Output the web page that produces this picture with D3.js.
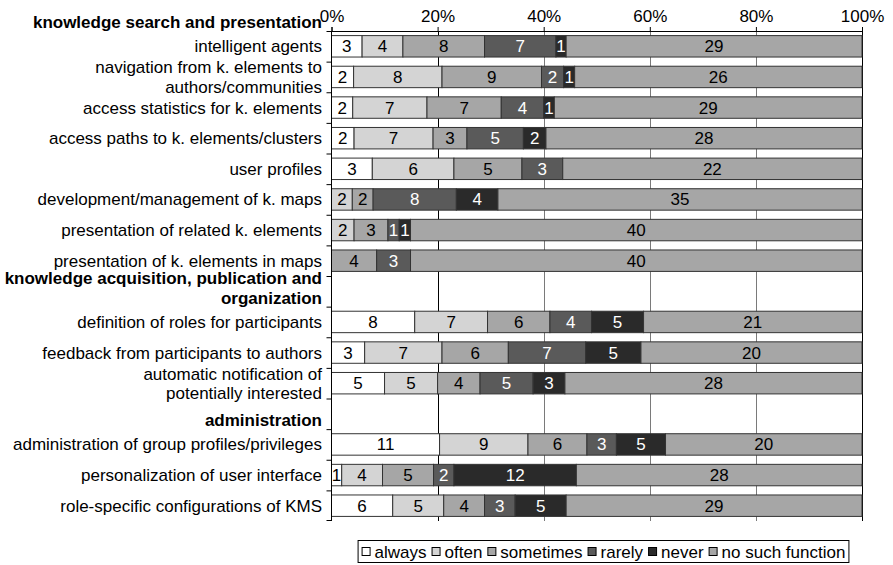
<!DOCTYPE html>
<html>
<head>
<meta charset="utf-8">
<script src="https://cdn.jsdelivr.net/npm/d3@7"></script>
<style>
  html, body { margin: 0; padding: 0; background: #fff; }
  svg { display: block; font-family: "Liberation Sans", Arial, sans-serif; }
</style>
</head>
<body>
<svg id="chart" width="893" height="565"></svg>
<script>
// ---------- data ----------
const categories = [
  "knowledge search and presentation",
  "intelligent agents",
  "navigation from k. elements to\nauthors/communities",
  "access statistics for k. elements",
  "access paths to k. elements/clusters",
  "user profiles",
  "development/management of k. maps",
  "presentation of related k. elements",
  "presentation of k. elements in maps",
  "knowledge acquisition, publication and\norganization",
  "definition of roles for participants",
  "feedback from participants to authors",
  "automatic notification of\npotentially interested",
  "administration",
  "administration of group profiles/privileges",
  "personalization of user interface",
  "role-specific configurations of KMS"
];
const headerCategories = [
  "knowledge search and presentation",
  "knowledge acquisition, publication and\norganization",
  "administration"
];
const seriesNames = ["always", "often", "sometimes", "rarely", "never", "no such function"];
const always         = [null, 3, 2, 2, 2, 3, 0, 0, 0,  null, 8, 3, 5,  null, 11, 1, 6];
const often          = [null, 4, 8, 7, 7, 6, 2, 2, 0,  null, 7, 7, 5,  null, 9, 4, 5];
const sometimes      = [null, 8, 9, 7, 3, 5, 2, 3, 4,  null, 6, 6, 4,  null, 6, 5, 4];
const rarely         = [null, 7, 2, 4, 5, 3, 8, 1, 3,  null, 4, 7, 5,  null, 3, 2, 3];
const never          = [null, 1, 1, 1, 2, 0, 4, 1, 0,  null, 5, 5, 3,  null, 5, 12, 5];
const noSuchFunction = [null, 29, 26, 29, 28, 22, 35, 40, 40, null, 21, 20, 28, null, 20, 28, 29];
const xTicks = [0, 0.2, 0.4, 0.6, 0.8, 1];

// ---------- styles ----------
const colors = {
  "always": "#ffffff",
  "often": "#d4d4d4",
  "sometimes": "#a6a6a6",
  "rarely": "#5a5a5a",
  "never": "#2a2a2a",
  "no such function": "#a6a6a6"
};
const textColors = {
  "always": "#000", "often": "#000", "sometimes": "#000",
  "rarely": "#fff", "never": "#fff", "no such function": "#000"
};

// ---------- build table ----------
const seriesValues = [always, often, sometimes, rarely, never, noSuchFunction];
const table = categories.map((c, i) => {
  const row = { category: c, header: headerCategories.includes(c) };
  seriesNames.forEach((s, k) => row[s] = seriesValues[k][i] || 0);
  return row;
});
const dataRows = table.filter(r => !r.header);

// ---------- layout ----------
const svg = d3.select("#chart");
const plotLeft = 331.5, plotRight = 862, plotTop = 31, plotBottom = 521;
const nInside = categories.length - 1; // first header sits above the plot
const step = (plotBottom - plotTop) / nInside;

const x = d3.scaleLinear().domain([0, 1]).range([plotLeft, plotRight]);
const y = d3.scaleBand().domain(categories).range([plotTop - step, plotBottom]).paddingInner(0).paddingOuter(0);
const barH = y.bandwidth() * 0.7;

const fontSize = 17;
const lineH = 19.2;

// gridlines
svg.append("g").selectAll("line")
  .data(xTicks.filter(t => t > 0 && t < 1))
  .join("line")
  .attr("x1", d => Math.round(x(d)) + 0.5).attr("x2", d => Math.round(x(d)) + 0.5)
  .attr("y1", plotTop).attr("y2", plotBottom)
  .attr("stroke", d => d === 0.2 ? "#000" : "#7a7a7a")
  .attr("stroke-width", 1);

// right border
svg.append("line")
  .attr("x1", Math.round(x(1)) + 0.5).attr("x2", Math.round(x(1)) + 0.5)
  .attr("y1", plotTop - 4).attr("y2", plotBottom)
  .attr("stroke", "#000");

// stacked bars
const stack = d3.stack().keys(seriesNames).offset(d3.stackOffsetExpand);
const stacked = stack(dataRows);

const layers = svg.append("g").selectAll("g")
  .data(stacked)
  .join("g")
  .attr("fill", d => colors[d.key]);

layers.selectAll("rect")
  .data(d => d.map(p => ({ p, key: d.key })))
  .join("rect")
  .filter(d => d.p[1] - d.p[0] > 0)
  .attr("x", d => x(d.p[0]))
  .attr("width", d => x(d.p[1]) - x(d.p[0]))
  .attr("y", d => y(d.p.data.category) + (y.bandwidth() - barH) / 2)
  .attr("height", barH)
  .attr("stroke", "#333")
  .attr("stroke-width", 1);

layers.selectAll("text")
  .data(d => d.map(p => ({ p, key: d.key })).filter(e => e.p.data[e.key] > 0))
  .join("text")
  .attr("x", d => (x(d.p[0]) + x(d.p[1])) / 2)
  .attr("y", d => y(d.p.data.category) + y.bandwidth() / 2 + 6)
  .attr("text-anchor", "middle")
  .attr("font-size", fontSize)
  .attr("fill", d => textColors[d.key])
  .text(d => d.p.data[d.key]);

// top axis
const xAxis = d3.axisTop(x).tickValues(xTicks).tickFormat(d3.format(".0%")).tickSize(4).tickPadding(5);
const gx = svg.append("g").attr("transform", `translate(0,${plotTop})`).call(xAxis);
gx.select(".domain").attr("stroke", "#000");
gx.selectAll(".tick line").attr("stroke", "#000");
gx.selectAll(".tick text").attr("font-size", fontSize).attr("font-family", null).attr("fill", "#000");

// left axis line and tick marks at band boundaries
svg.append("line")
  .attr("x1", plotLeft).attr("x2", plotLeft)
  .attr("y1", plotTop).attr("y2", plotBottom)
  .attr("stroke", "#000");
svg.append("g").selectAll("line")
  .data(categories.slice(1))
  .join("line")
  .attr("x1", plotLeft - 5).attr("x2", plotLeft)
  .attr("y1", d => y(d) + 0.5).attr("y2", d => y(d) + 0.5)
  .attr("stroke", "#000");
svg.append("line")
  .attr("x1", plotLeft - 5).attr("x2", plotLeft)
  .attr("y1", plotBottom - 0.5).attr("y2", plotBottom - 0.5)
  .attr("stroke", "#000");

// category labels
const labels = svg.append("g").selectAll("text")
  .data(table)
  .join("text")
  .attr("text-anchor", "end")
  .attr("font-size", fontSize)
  .attr("font-weight", d => d.header ? "bold" : "normal")
  .attr("fill", "#000");

labels.each(function(d) {
  const lines = d.category.split("\n");
  const n = lines.length;
  const top = y(d.category), bw = y.bandwidth();
  d3.select(this).selectAll("tspan")
    .data(lines)
    .join("tspan")
    .attr("x", plotLeft - 9.5)
    .attr("y", (l, i) => d.header
      ? top + bw - 3 - (n - 1 - i) * lineH
      : top + bw / 2 + 6 + (i - (n - 1) / 2) * lineH)
    .text(l => l);
});

// legend
const legend = svg.append("g");
const legendBox = legend.append("rect")
  .attr("fill", "#fff").attr("stroke", "#000").attr("stroke-width", 1);
let cx = 0;
seriesNames.forEach(s => {
  const g = legend.append("g");
  g.append("rect")
    .attr("x", cx + 0.5).attr("y", -4.5)
    .attr("width", 8).attr("height", 8)
    .attr("fill", colors[s]).attr("stroke", "#000").attr("stroke-width", 1);
  const t = g.append("text")
    .attr("x", cx + 13).attr("y", 6)
    .attr("font-size", fontSize)
    .text(s);
  const w = t.node().getComputedTextLength();
  cx = cx + 13 + w + 5;
});
const totalW = cx - 5;
const legendCenterX = 603.5, legendCenterY = 552;
const lx = legendCenterX - totalW / 2;
legend.attr("transform", `translate(${lx},${legendCenterY})`);
legendBox.attr("x", -3.5).attr("y", -11.5).attr("width", totalW + 7).attr("height", 22);
</script>
</body>
</html>
